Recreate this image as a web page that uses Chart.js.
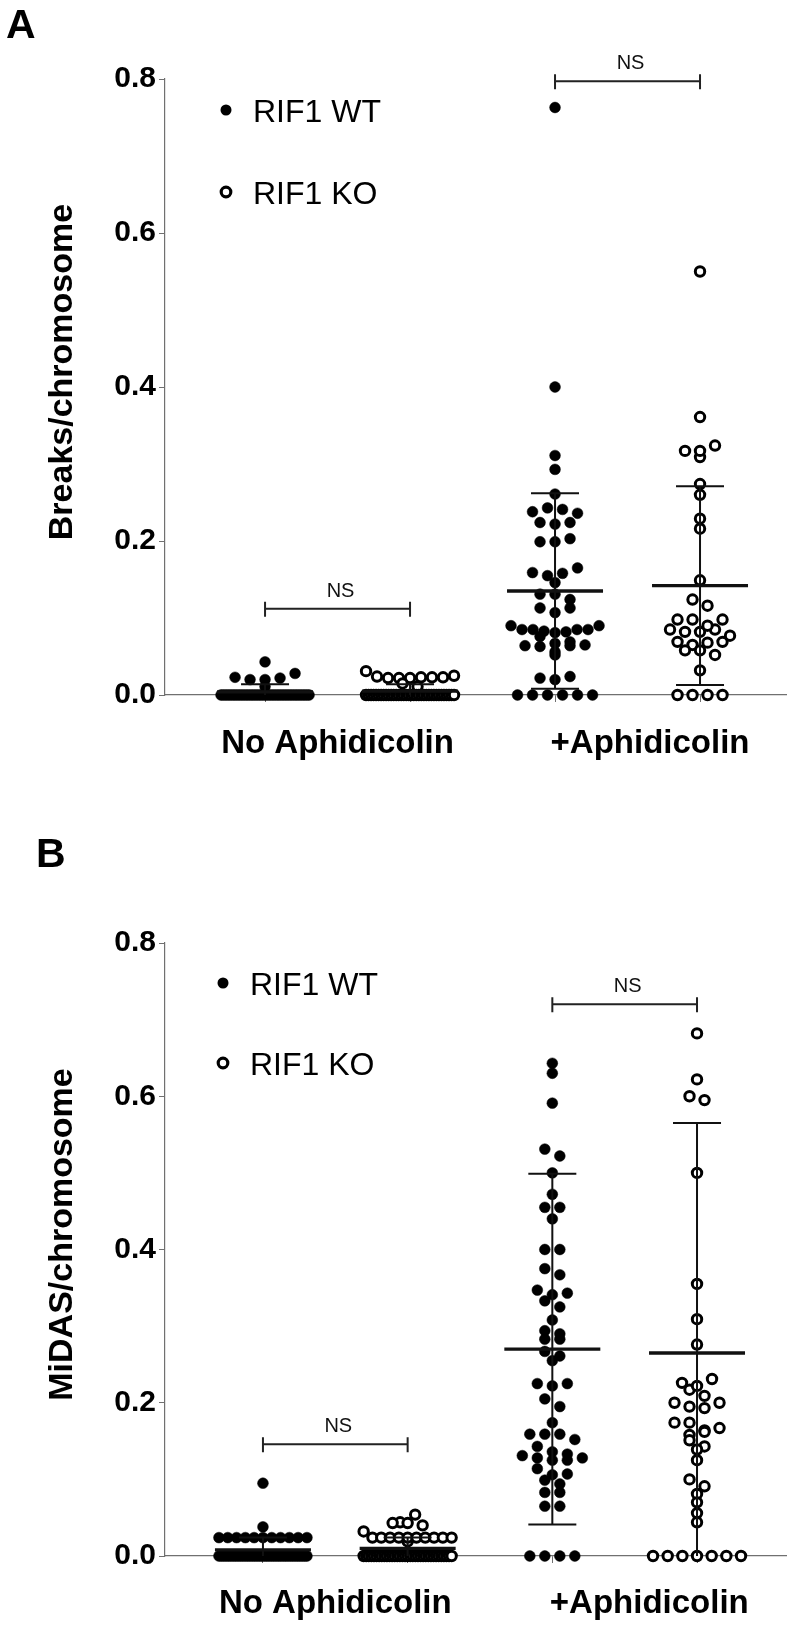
<!DOCTYPE html>
<html>
<head>
<meta charset="utf-8">
<script src="https://cdn.jsdelivr.net/npm/chart.js@4.4.1/dist/chart.umd.min.js"></script>
<style>
  html, body { margin: 0; padding: 0; background: #fff; }
  #wrap { position: relative; width: 794px; height: 1625px; }
  canvas { position: absolute; left: 0; }
</style>
</head>
<body>
<div id="wrap">
  <canvas id="chartA" width="794" height="800" style="top:0"></canvas>
  <canvas id="chartB" width="794" height="825" style="top:800px"></canvas>
</div>
<script>
// groups on the x axis: WT / KO without aphidicolin, WT / KO with aphidicolin
const groups = [1, 2, 3, 4];
const seriesNames = ['RIF1 WT', 'RIF1 KO'];
const conditionLabels = ['No Aphidicolin', '+Aphidicolin'];
const yTicks = [0, 0.2, 0.4, 0.6, 0.8];

// ---- Panel A: breaks per chromosome ----
const breaksWtNoAph = [0.043, 0.023, 0.020, 0.020, 0.022, 0.028, 0.011,
  0, 0, 0, 0, 0, 0, 0, 0, 0, 0, 0, 0, 0, 0, 0, 0, 0, 0,
  0, 0, 0, 0, 0, 0, 0, 0, 0, 0, 0, 0, 0, 0, 0, 0, 0];
const breaksKoNoAph = [0.031, 0.024, 0.022, 0.022, 0.022, 0.023, 0.023, 0.023, 0.025, 0.015, 0.011,
  0, 0, 0, 0, 0, 0, 0, 0, 0, 0, 0, 0, 0, 0, 0, 0, 0, 0,
  0, 0, 0, 0, 0, 0, 0, 0, 0, 0, 0, 0, 0, 0, 0, 0, 0, 0];
const breaksWtAph = [0.763, 0.400, 0.311, 0.293, 0.261, 0.238, 0.243, 0.241, 0.236,
  0.224, 0.222, 0.224, 0.199, 0.199, 0.203, 0.159, 0.155, 0.158, 0.165, 0.146,
  0.131, 0.131, 0.124, 0.113, 0.107, 0.113,
  0.090, 0.085, 0.085, 0.083, 0.081, 0.076, 0.082, 0.085, 0.085, 0.090,
  0.067, 0.064, 0.063, 0.052, 0.056, 0.064, 0.065, 0.069,
  0.022, 0.020, 0.024, 0, 0, 0, 0, 0, 0];
const breaksKoAph = [0.550, 0.361, 0.317, 0.309, 0.317, 0.324, 0.274, 0.260, 0.229, 0.216,
  0.149, 0.124, 0.116, 0.098, 0.098, 0.085, 0.082, 0.082, 0.085, 0.090, 0.098,
  0.077, 0.069, 0.065, 0.058, 0.058, 0.068, 0.069, 0.052, 0.032, 0, 0, 0, 0];
const breaksMean = [0.004, 0.005, 0.135, 0.142];
const breaksSd = [0.010, 0.009, 0.127, 0.129];

// ---- Panel B: MiDAS per chromosome ----
const midasWtNoAph = [0.095, 0.038,
  0.024, 0.024, 0.024, 0.024, 0.024, 0.024, 0.024, 0.024, 0.024, 0.024, 0.024,
  0, 0, 0, 0, 0, 0, 0, 0, 0, 0, 0, 0, 0, 0, 0, 0, 0, 0, 0,
  0, 0, 0, 0, 0, 0, 0, 0, 0, 0, 0, 0, 0, 0, 0, 0, 0, 0, 0];
const midasKoNoAph = [0.044, 0.043, 0.043, 0.054, 0.040, 0.032, 0.019,
  0.024, 0.024, 0.024, 0.024, 0.024, 0.024, 0.024, 0.024, 0.024, 0.024,
  0, 0, 0, 0, 0, 0, 0, 0, 0, 0, 0, 0, 0, 0, 0, 0, 0, 0,
  0, 0, 0, 0, 0, 0, 0, 0, 0, 0, 0, 0, 0, 0, 0, 0, 0];
const midasWtAph = [0.643, 0.630, 0.591, 0.531, 0.522, 0.500, 0.472, 0.455, 0.455, 0.440,
  0.400, 0.400, 0.375, 0.367, 0.347, 0.341, 0.333, 0.343, 0.325, 0.308,
  0.294, 0.290, 0.283, 0.283, 0.267, 0.261, 0.255, 0.225, 0.222, 0.225,
  0.205, 0.195, 0.174, 0.159, 0.159, 0.159, 0.152, 0.143, 0.136,
  0.131, 0.128, 0.125, 0.125, 0.128, 0.133, 0.114, 0.106, 0.099, 0.107, 0.094,
  0.083, 0.083, 0.065, 0.065, 0, 0, 0, 0];
const midasKoAph = [0.682, 0.622, 0.600, 0.595, 0.500, 0.355, 0.309, 0.276,
  0.226, 0.217, 0.222, 0.231, 0.200, 0.195, 0.193, 0.200, 0.209, 0.174, 0.174,
  0.164, 0.158, 0.162, 0.167, 0.151, 0.143, 0.139, 0.125, 0.100, 0.091, 0.081,
  0.070, 0.056, 0.044, 0, 0, 0, 0, 0, 0, 0];
const midasMean = [0.008, 0.010, 0.270, 0.265];
const midasSd = [0.016, 0.014, 0.229, 0.300];

// significance brackets
const bracketFrom = [1, 3];
const bracketTo = [2, 4];
const bracketText = ['NS', 'NS'];
const breaksBracketY = [0.112, 0.797];
const midasBracketY = [0.146, 0.720];

const FONT = "'Liberation Sans', Arial, Helvetica, sans-serif";
const AXIS_GREY = '#707070';

// swarm layout: rows of nearby values are spread symmetrically round the group centre
const ROW_HEIGHT = 8, ROW_STEP = 15, ROW_MAX = 88;
function swarmOffsets(values, yScale) {
    const order = values.map((v, i) => i).sort((a, b) => values[b] - values[a]);
    const offsets = values.map(() => 0);
    let bin = [], binTop = null;
    const flush = () => {
        bin.sort((a, b) => a - b);
        const n = bin.length;
        const step = n > 1 ? Math.min(ROW_STEP, ROW_MAX / (n - 1)) : 0;
        bin.forEach((idx, k) => { offsets[idx] = (k - (n - 1) / 2) * step; });
    };
    order.forEach(i => {
        const py = yScale.getPixelForValue(values[i]);
        if (binTop === null || py - binTop > ROW_HEIGHT) {
            if (bin.length) flush();
            bin = [];
            binTop = py;
        }
        bin.push(i);
    });
    if (bin.length) flush();
    return offsets;
}

function decorPlugin(p) {
    return {
        id: 'decor' + p.letter,
        afterDatasetsDraw(chart) {
            const ctx = chart.ctx, xs = chart.scales.x, ys = chart.scales.y;
            ctx.save();
            ctx.strokeStyle = '#111';
            p.mean.forEach((m, gi) => {
                const cx = xs.getPixelForValue(groups[gi]);
                const yHi = ys.getPixelForValue(m + p.sd[gi]);
                const lo = m - p.sd[gi];
                const yLo = ys.getPixelForValue(Math.max(0, lo));
                ctx.lineWidth = 2;
                ctx.beginPath();
                ctx.moveTo(cx, yLo); ctx.lineTo(cx, yHi);
                ctx.moveTo(cx - 24, yHi); ctx.lineTo(cx + 24, yHi);
                if (lo > 0) { ctx.moveTo(cx - 24, yLo); ctx.lineTo(cx + 24, yLo); }
                ctx.stroke();
                const ym = ys.getPixelForValue(m);
                ctx.lineWidth = 3.4;
                ctx.beginPath();
                ctx.moveTo(cx - 48, ym); ctx.lineTo(cx + 48, ym);
                ctx.stroke();
            });
            ctx.restore();
        },
        afterDraw(chart) {
            const ctx = chart.ctx, xs = chart.scales.x, ys = chart.scales.y, area = chart.chartArea;
            ctx.save();
            // brackets
            ctx.strokeStyle = '#222';
            ctx.fillStyle = '#111';
            ctx.lineWidth = 2;
            ctx.font = '20px ' + FONT;
            ctx.textAlign = 'center';
            ctx.textBaseline = 'alphabetic';
            bracketFrom.forEach((g0, i) => {
                const x0 = xs.getPixelForValue(g0), x1 = xs.getPixelForValue(bracketTo[i]);
                const y = ys.getPixelForValue(p.bracketY[i]);
                ctx.beginPath();
                ctx.moveTo(x0, y); ctx.lineTo(x1, y);
                ctx.moveTo(x0, y - 7); ctx.lineTo(x0, y + 8);
                ctx.moveTo(x1, y - 7); ctx.lineTo(x1, y + 8);
                ctx.stroke();
                ctx.fillText(bracketText[i], (x0 + x1) / 2 + 3, y - 12);
            });
            // legend inside the plot
            chart.data.datasets.forEach((ds, i) => {
                const y = area.top + p.legendTop + i * p.legendGap;
                const mx = area.left + p.legendLeft;
                ctx.beginPath();
                if (i === 0) {
                    ctx.fillStyle = '#000';
                    ctx.arc(mx, y, 5.5, 0, Math.PI * 2);
                    ctx.fill();
                } else {
                    ctx.fillStyle = '#fff';
                    ctx.strokeStyle = '#000';
                    ctx.lineWidth = 3.2;
                    ctx.arc(mx, y, 4.8, 0, Math.PI * 2);
                    ctx.fill();
                    ctx.stroke();
                }
                ctx.fillStyle = '#000';
                ctx.font = '32px ' + FONT;
                ctx.textAlign = 'left';
                ctx.fillText(ds.label, mx + 27, y + 11.5);
            });
            // condition labels under the axis
            ctx.font = 'bold 33px ' + FONT;
            ctx.textAlign = 'center';
            conditionLabels.forEach((t, i) => {
                ctx.fillText(t, xs.getPixelForValue(p.labelAt[i]), area.bottom + p.labelDrop);
            });
            // y axis title
            ctx.save();
            ctx.font = 'bold 34px ' + FONT;
            ctx.translate(p.titleX, (area.top + area.bottom) / 2 - 15);
            ctx.rotate(-Math.PI / 2);
            ctx.fillText(p.yTitle, 0, 0);
            ctx.restore();
            // panel letter
            ctx.font = 'bold 41px ' + FONT;
            ctx.textAlign = 'left';
            ctx.fillText(p.letter, p.letterX, p.letterY);
            ctx.restore();
        }
    };
}

function buildPanel(canvasId, p) {
    const canvas = document.getElementById(canvasId);
    const W = canvas.width, H = canvas.height;
    const chart = new Chart(canvas, {
        type: 'scatter',
        data: {
            datasets: [
                { label: seriesNames[0], data: [], pointStyle: 'circle', pointRadius: 5.4, backgroundColor: '#000', borderColor: '#000', borderWidth: 0.5, clip: false },
                { label: seriesNames[1], data: [], pointStyle: 'circle', pointRadius: 4.7, backgroundColor: '#fff', borderColor: '#000', borderWidth: 3, clip: false }
            ]
        },
        options: {
            responsive: false,
            animation: false,
            devicePixelRatio: 1,
            events: [],
            layout: { padding: { left: 0, top: p.top, right: W - p.right, bottom: 0 } },
            plugins: { legend: { display: false }, tooltip: { enabled: false } },
            scales: {
                x: {
                    type: 'linear', min: p.xMin, max: p.xMax,
                    afterBuildTicks: s => { s.ticks = groups.map(v => ({ value: v })); },
                    afterFit: s => { s.height = H - p.bottom; },
                    ticks: { callback: () => '' },
                    grid: { drawOnChartArea: false, drawTicks: true, tickLength: 7, color: AXIS_GREY, lineWidth: 1 },
                    border: { display: true, color: AXIS_GREY, width: 1.2 }
                },
                y: {
                    type: 'linear', min: 0, max: 0.8,
                    afterBuildTicks: s => { s.ticks = yTicks.map(v => ({ value: v })); },
                    afterFit: s => { s.width = p.left; },
                    ticks: { callback: v => v.toFixed(1), color: '#000', padding: 3, font: { family: FONT, size: 30, weight: 'bold' } },
                    grid: { drawOnChartArea: false, drawTicks: true, tickLength: 6, color: AXIS_GREY, lineWidth: 1 },
                    border: { display: true, color: AXIS_GREY, width: 1.2 }
                }
            }
        },
        plugins: [decorPlugin(p)]
    });
    const xs = chart.scales.x, ys = chart.scales.y;
    const unitPx = xs.getPixelForValue(2) - xs.getPixelForValue(1);
    p.values.forEach((vals, gi) => {
        const offs = swarmOffsets(vals, ys);
        vals.forEach((v, i) => {
            chart.data.datasets[gi % 2].data.push({ x: groups[gi] + offs[i] / unitPx, y: v });
        });
    });
    chart.update('none');
    return chart;
}

buildPanel('chartA', {
    letter: 'A', letterX: 6, letterY: 38,
    yTitle: 'Breaks/chromosome', titleX: 72,
    values: [breaksWtNoAph, breaksKoNoAph, breaksWtAph, breaksKoAph],
    mean: breaksMean, sd: breaksSd, bracketY: breaksBracketY,
    left: 165, right: 786, top: 79, bottom: 695,
    xMin: 0.31, xMax: 4.593,
    legendLeft: 61, legendTop: 31, legendGap: 82,
    labelAt: [1.5, 3.655], labelDrop: 58
});

buildPanel('chartB', {
    letter: 'B', letterX: 36, letterY: 67,
    yTitle: 'MiDAS/chromosome', titleX: 72,
    values: [midasWtNoAph, midasKoNoAph, midasWtAph, midasKoAph],
    mean: midasMean, sd: midasSd, bracketY: midasBracketY,
    left: 165, right: 786, top: 143, bottom: 756,
    xMin: 0.323, xMax: 4.615,
    legendLeft: 58, legendTop: 40, legendGap: 80,
    labelAt: [1.5, 3.67], labelDrop: 57
});
</script>
</body>
</html>
